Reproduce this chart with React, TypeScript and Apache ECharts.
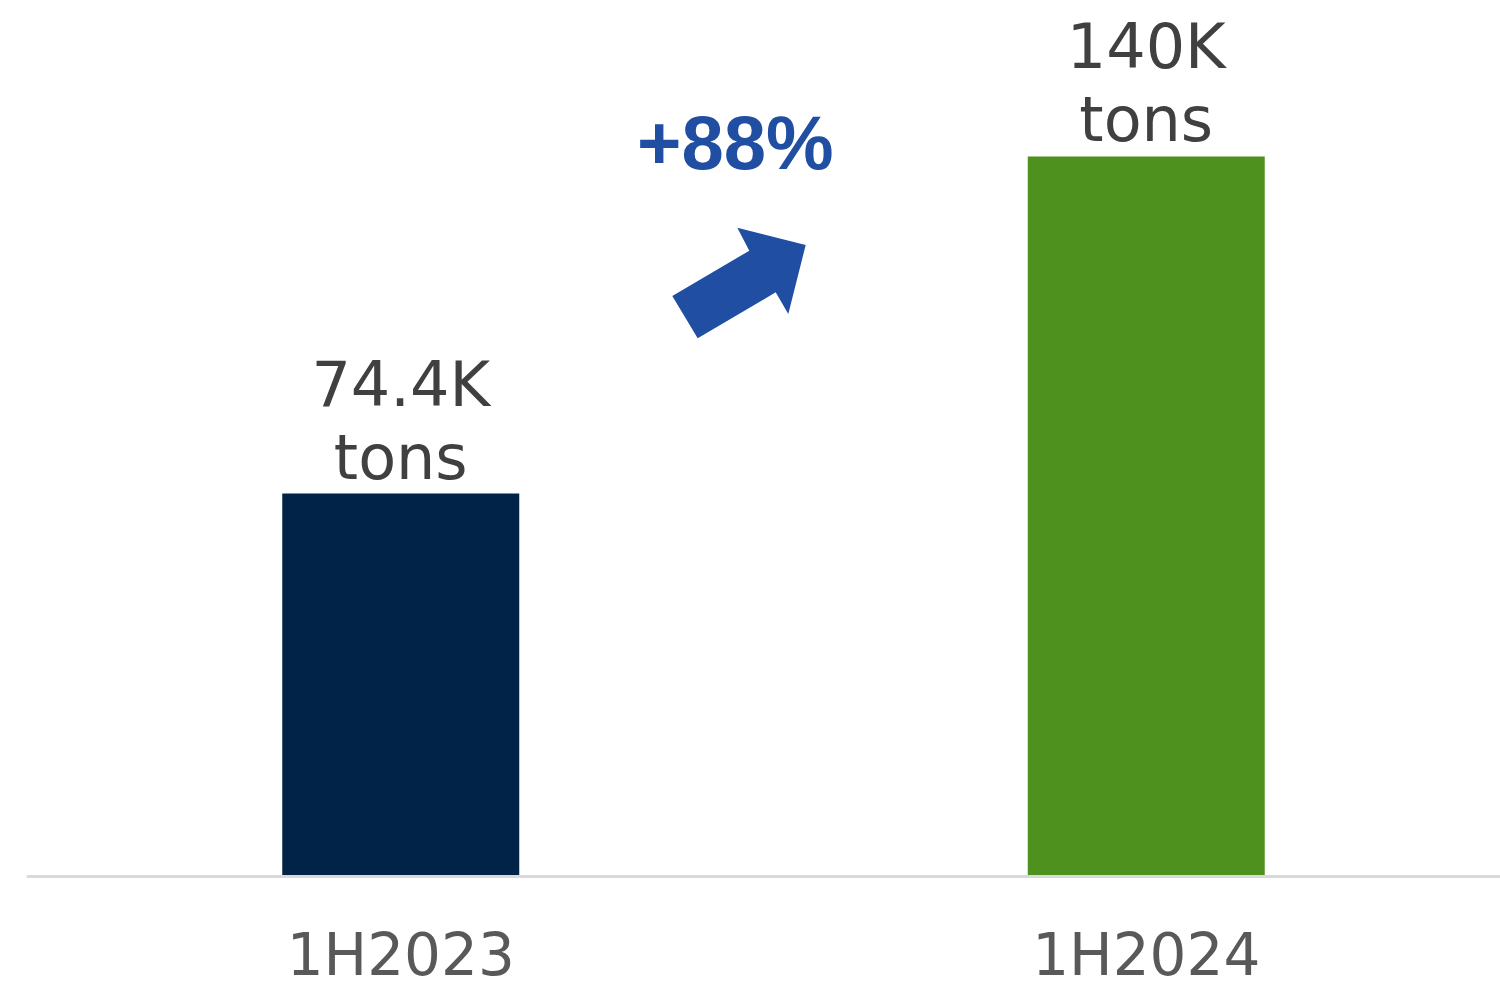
import React, { useEffect, useRef } from "react";
import * as echarts from "echarts";

const categories = ["1H2023", "1H2024"];
const values = [74.4, 140];
const valueLabels = ["74.4K", "140K"];
const unitLabel = "tons";
const barColors = ["#002347", "#4E911E"];
const growthLabel = "+88%";

export default function App() {
  const ref = useRef<HTMLDivElement>(null);
  useEffect(() => {
    const chart = echarts.init(ref.current!, null, { renderer: "svg" });
    chart.setOption({
      animation: false,
      grid: {
        left: 28,
        width: 1491,
        top: 105,
        bottom: 114,
        containLabel: false,
        outerBoundsMode: "none",
      },
      xAxis: {
        type: "category",
        data: categories,
        axisLine: { show: true, lineStyle: { color: "#D9D9D9", width: 3 } },
        axisTick: { show: false },
        axisLabel: {
          color: "#595959",
          fontSize: 58,
          lineHeight: 58,
          verticalAlign: "middle",
          fontFamily: "DejaVu Sans",
          margin: 79,
        },
        z: 5,
      },
      yAxis: {
        type: "value",
        min: 0,
        max: 150,
        show: false,
        splitLine: { show: false },
      },
      series: [
        {
          type: "bar",
          barWidth: 237,
          data: values.map((v, i) => ({ value: v, itemStyle: { color: barColors[i] } })),
          label: {
            show: true,
            position: "top",
            distance: 0,
            color: "#404040",
            fontSize: 62,
            lineHeight: 73,
            fontFamily: "DejaVu Sans",
            formatter: (p: any) => `${valueLabels[p.dataIndex]}\n${unitLabel}`,
          },
        },
      ],
      graphic: [
        {
          type: "polygon",
          shape: {
            points: [
              [672.3, 296],
              [697.7, 338.3],
              [775.7, 292.3],
              [788.3, 314],
              [805.7, 245],
              [737.3, 227.7],
              [749.3, 250.7],
            ],
          },
          style: { fill: "#1F4EA3" },
        },
        {
          type: "text",
          x: 637,
          y: 142,
          style: {
            text: growthLabel,
            fill: "#1F4EA3",
            fontSize: 76,
            fontWeight: "bold",
            fontFamily: "Liberation Sans",
            verticalAlign: "middle",
            align: "left",
          },
        },
      ],
    });
    return () => chart.dispose();
  }, []);
  return (
    <div
      ref={ref}
      style={{ position: "fixed", left: 0, top: 0, width: 1500, height: 990, background: "#fff" }}
    />
  );
}
